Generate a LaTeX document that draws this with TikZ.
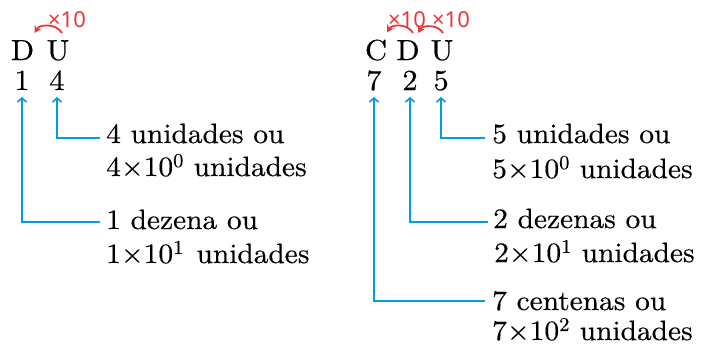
\documentclass[tikz,border=0pt]{standalone}
\usepackage{fontspec}
\setmainfont{lmroman10-regular.otf}[FakeStretch=1.05,FakeBold=0.4]
\newfontfamily\xfont{Noto Sans}
\usetikzlibrary{arrows.meta}
\definecolor{cblue}{RGB}{0,158,224}
\definecolor{cred}{RGB}{232,56,60}
\tikzset{
  big/.style={anchor=base, inner sep=0pt, font=\fontsize{29}{32}\selectfont},
  lbl/.style={anchor=base west, inner sep=0pt, text height=18pt, text depth=0pt, font=\fontsize{28}{32}\selectfont},
  conn/.style={draw=cblue, line width=2pt, -{Straight Barb[length=4pt,width=9pt,line width=1.6pt]}},
  mul/.style={draw=cred, line width=1.8pt, -{Stealth[length=7pt,width=8pt]}},
  multxt/.style={inner sep=0pt, text=cred, font=\xfont\fontsize{22}{24}\selectfont}
}
\begin{document}
\begin{tikzpicture}[x=1pt,y=1pt]
\useasboundingbox (0,0) rectangle (705,-351);
% left group
\node[big] (D1) at (22.5,-60) {D};
\node[big] (U1) at (58,-60) {U};
\node[big] (d1) at (22,-90) {1};
\node[big] (d4) at (57,-90) {4};
\node[multxt] (m1) at (67,-20) {×10};
\draw[mul] ([shift={(4,7)}]U1.north) to[bend right=60] ([shift={(12,7)}]D1.north);
\node[lbl] (L4a) at (106,-143) {4 unidades ou};
\node[lbl] (L4b) at (106,-176) {4×10\textsuperscript{0} unidades};
\node[lbl] (L1a) at (106,-229) {1 dezena ou};
\node[lbl] (L1b) at (106,-263) {1×10\textsuperscript{1}\hspace{0.45em}unidades};
\draw[conn] ([xshift=-6pt,yshift=-4pt]L4a.west) -| ([yshift=-7pt]d4.base);
\draw[conn] ([xshift=-6pt,yshift=-2pt]L1a.west) -| ([yshift=-7pt]d1.base);
% right group
\node[big] (C2) at (376,-60) {C};
\node[big] (D2) at (408,-60) {D};
\node[big] (U2) at (442,-60) {U};
\node[big] (d7) at (374,-90) {7};
\node[big] (d2) at (410,-90) {2};
\node[big] (d5) at (441,-90) {5};
\node[multxt] (m2) at (407,-20) {×10};
\node[multxt] (m3) at (451,-20) {×10};
\draw[mul] ([shift={(5,7)}]D2.north) to[bend right=60] ([shift={(11,7)}]C2.north);
\draw[mul] ([shift={(1,7)}]U2.north) to[bend right=60] ([shift={(10,7)}]D2.north);
\node[lbl] (R5a) at (492,-143) {5 unidades ou};
\node[lbl] (R5b) at (492,-178) {5×10\textsuperscript{0} unidades};
\node[lbl] (R2a) at (493,-228) {2 dezenas ou};
\node[lbl] (R2b) at (494,-262) {2×10\textsuperscript{1} unidades};
\node[lbl] (R7a) at (492,-310) {7 centenas ou};
\node[lbl] (R7b) at (492,-340) {7×10\textsuperscript{2} unidades};
\draw[conn] ([xshift=-7pt,yshift=-4pt]R5a.west) -| ([yshift=-7pt]d5.base);
\draw[conn] ([xshift=-5pt,yshift=-3pt]R2a.west) -| ([yshift=-7pt]d2.base);
\draw[conn] ([xshift=-7pt,yshift=0pt]R7a.west) -| ([yshift=-7pt]d7.base);
\end{tikzpicture}
\end{document}
